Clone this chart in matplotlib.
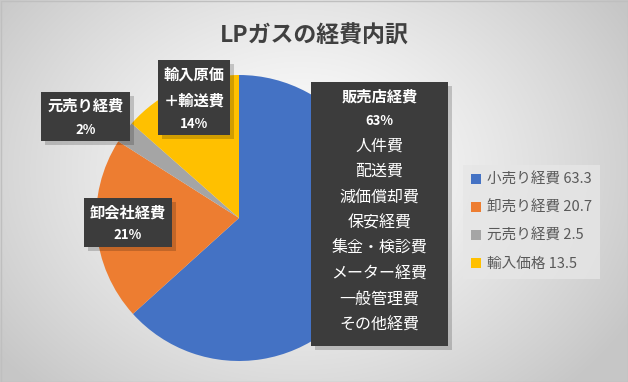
import numpy as np
import matplotlib
matplotlib.use("Agg")
import matplotlib.pyplot as plt
from matplotlib.patches import Rectangle

plt.rcParams['font.family'] = ['Noto Sans CJK JP', 'DejaVu Sans']

# ---------------------------------------------------------------- data
names = ['小売り経費', '卸売り経費', '元売り経費', '輸入価格']
values = [63.3, 20.7, 2.5, 13.5]
colors = ['#4472C4', '#ED7D31', '#A5A5A5', '#FFC000']
box_titles = [['販売店経費'], ['卸会社経費'], ['元売り経費'], ['輸入原価', '＋輸送費']]
retail_items = ['人件費', '配送費', '減価償却費', '保安経費', '集金・検診費',
                'メーター経費', '一般管理費', 'その他経費']
title = 'LPガスの経費内訳'

W, H = 628, 382
fig = plt.figure(figsize=(W / 100, H / 100), dpi=100)

# ---------------------------------------------------------------- background
bg = fig.add_axes([0, 0, 1, 1], zorder=0)
yy, xx = np.mgrid[0:H, 0:W]
d = np.sqrt(((xx - 300) / 380.0) ** 2 + ((yy - 170) / 300.0) ** 2)
shade = 1.0 - 0.22 * np.clip(d, 0, 1) ** 1.3
bg.imshow(np.dstack([shade] * 3), extent=[0, W, H, 0], aspect='auto')
bg.set_xlim(0, W)
bg.set_ylim(H, 0)
bg.add_patch(Rectangle((0.5, 0.5), W - 1, H - 1, fill=False, ec='#bfbfbf', lw=1))
bg.axis('off')

# ---------------------------------------------------------------- pie
cx, cy, r = 239, 218, 143
ax = fig.add_axes([(cx - r) / W, 1 - (cy + r) / H, 2 * r / W, 2 * r / H], zorder=1)
wedges, _ = ax.pie(values, colors=colors, startangle=90, counterclock=False,
                   radius=1.0, wedgeprops=dict(linewidth=0))
ax.set_xlim(-1, 1)
ax.set_ylim(-1, 1)
ax.set_aspect('auto')

fig.text(0.5, 1 - 36 / H, title, ha='center', va='center', fontsize=16.5,
         fontweight='bold', color='#404040')

# ---------------------------------------------------------------- label boxes
ov = fig.add_axes([0, 0, 1, 1], zorder=2)
ov.set_xlim(0, W)
ov.set_ylim(H, 0)
ov.axis('off')

pct = [f"{v / sum(values) * 100:.0f}%" for v in values]


def box(x0, y0, x1, y1):
    ov.add_patch(Rectangle((x0 + 4, y0 + 4), x1 - x0, y1 - y0, fc='#000000',
                           alpha=0.18, ec='none'))
    ov.add_patch(Rectangle((x0, y0), x1 - x0, y1 - y0, fc='#3c3c3c', ec='none'))


hfs, pfs, ifs = 11, 9.5, 11.5

# 販売店経費
box(311, 82, 448, 346)
xc = (311 + 448) / 2
ov.text(xc, 97, box_titles[0][0], ha='center', va='center', color='white',
        fontsize=hfs, fontweight='bold')
ov.text(xc, 121, pct[0], ha='center', va='center', color='white',
        fontsize=pfs, fontweight='bold')
for i, item in enumerate(retail_items):
    ov.text(xc, 146 + i * 25.6, item, ha='center', va='center', color='white',
            fontsize=ifs)

# 卸会社経費
box(84, 198, 172, 247)
ov.text(128, 212, box_titles[1][0], ha='center', va='center', color='white',
        fontsize=hfs, fontweight='bold')
ov.text(128, 235, pct[1], ha='center', va='center', color='white',
        fontsize=pfs, fontweight='bold')

# 元売り経費
box(41, 92, 130, 141)
ov.text(85.5, 106, box_titles[2][0], ha='center', va='center', color='white',
        fontsize=hfs, fontweight='bold')
ov.text(85.5, 130, pct[2], ha='center', va='center', color='white',
        fontsize=pfs, fontweight='bold')

# 輸入原価＋輸送費
box(158, 60, 230, 135)
ov.text(194, 75, box_titles[3][0], ha='center', va='center', color='white',
        fontsize=hfs, fontweight='bold')
ov.text(194, 101, box_titles[3][1], ha='center', va='center', color='white',
        fontsize=hfs, fontweight='bold')
ov.text(194, 124, pct[3], ha='center', va='center', color='white',
        fontsize=pfs, fontweight='bold')

# ---------------------------------------------------------------- legend
labels = [f"{n} {v}" for n, v in zip(names, values)]
leg = ov.legend(wedges, labels, loc='upper left',
                bbox_to_anchor=(463 / W, 1 - 165 / H), bbox_transform=fig.transFigure,
                frameon=True, fancybox=False, fontsize=10.5, labelcolor='#595959',
                handlelength=0.7, handleheight=0.7, handletextpad=0.4,
                labelspacing=0.95, borderpad=0.55, borderaxespad=0)
leg.get_frame().set_facecolor('#e6e6e6')
leg.get_frame().set_edgecolor('none')
leg.get_frame().set_alpha(0.8)

fig.savefig('out.png', dpi=100)
